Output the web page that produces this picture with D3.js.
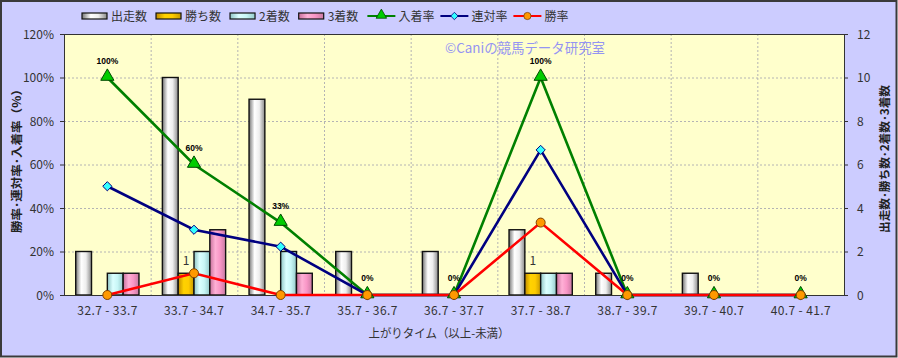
<!DOCTYPE html>
<html><head><meta charset="utf-8">
<script src="https://cdn.jsdelivr.net/npm/d3@7"></script>
<style>body{margin:0;background:#fff}svg{display:block}</style>
</head><body><svg id="c" width="898" height="358"></svg>
<script>
const categories = ["32.7 - 33.7","33.7 - 34.7","34.7 - 35.7","35.7 - 36.7","36.7 - 37.7","37.7 - 38.7","38.7 - 39.7","39.7 - 40.7","40.7 - 41.7"];
const runs    = [2,10,9,2,2,3,1,1,0];
const wins    = [0,1,0,0,0,1,0,0,0];
const seconds = [1,2,2,0,0,1,0,0,0];
const thirds  = [1,3,1,0,0,1,0,0,0];
const placeRate    = [100,60,33.3,0,0,100,0,0,0];
const quinellaRate = [50,30,22.2,0,0,66.7,0,0,0];
const winRate      = [0,10,0,0,0,33.3,0,0,0];
const leftTicks  = [0,20,40,60,80,100,120];
const rightTicks = [0,2,4,6,8,10,12];
const barSeries = [
  {name:"出走数", values:runs,    grad:"gW", stops:["#767676","#ffffff","#eeeeee","#8a8a8a"]},
  {name:"勝ち数", values:wins,    grad:"gY", stops:["#c08a00","#ffd200","#ffcc00","#c89a00"]},
  {name:"2着数",  values:seconds, grad:"gC", stops:["#8fc4c4","#dcffff","#c8f6f6","#94caca"]},
  {name:"3着数",  values:thirds,  grad:"gP", stops:["#c8709c","#ffb0d6","#f896c6","#c87aa2"]}
];
const lineSeries = [
  {name:"入着率", values:placeRate,    color:"#008000", marker:"tri"},
  {name:"連対率", values:quinellaRate, color:"#000080", marker:"dia"},
  {name:"勝率",   values:winRate,      color:"#ff0000", marker:"cir"}
];

const W=898,H=358;
const plot={l:64,r:844,t:34,b:295};
const svg=d3.select("#c");
const FONT="'Noto Sans CJK JP','Noto Sans',sans-serif";

const defs=svg.append("defs");
barSeries.forEach(s=>{
  const g=defs.append("linearGradient").attr("id",s.grad).attr("x1",0).attr("x2",1).attr("y1",0).attr("y2",0);
  [0,0.35,0.65,1].forEach((o,i)=>g.append("stop").attr("offset",o).attr("stop-color",s.stops[i]));
});

// background
svg.append("rect").attr("x",1).attr("y",1).attr("width",W-2.5).attr("height",H-2.5)
  .attr("fill","#ccccff").attr("stroke","#3a3a3a").attr("stroke-width",2);
svg.append("rect").attr("x",plot.l).attr("y",plot.t).attr("width",plot.r-plot.l).attr("height",plot.b-plot.t)
  .attr("fill","#ffffcc");

const x=d3.scaleBand().domain(categories).range([plot.l,plot.r]).padding(0);
const yL=d3.scaleLinear().domain([0,120]).range([plot.b,plot.t]);
const yR=d3.scaleLinear().domain([0,12]).range([plot.b,plot.t]);
const bw=x.bandwidth(), gw=bw*0.73;
const xs=d3.scaleBand().domain(barSeries.map(s=>s.name)).range([(bw-gw)/2,(bw+gw)/2]).padding(0);

// gridlines
const grid=svg.append("g");
grid.selectAll("line.h").data(leftTicks.filter(t=>t>0&&t<120)).join("line")
  .attr("x1",plot.l).attr("x2",plot.r).attr("y1",d=>yL(d)+0.5).attr("y2",d=>yL(d)+0.5)
  .attr("stroke","#b4b4b4").attr("stroke-dasharray","2,2");
grid.selectAll("line.v").data(categories.slice(1)).join("line")
  .attr("x1",d=>x(d)+0.5).attr("x2",d=>x(d)+0.5).attr("y1",plot.t).attr("y2",plot.b)
  .attr("stroke","#b4b4b4").attr("stroke-dasharray","2,2");

// watermark
svg.append("text").attr("x",445).attr("y",53).text("©Caniの競馬データ研究室")
  .attr("font-family",FONT).attr("font-size",13.5).attr("fill","#9494f2")
  .attr("textLength",160).attr("lengthAdjust","spacingAndGlyphs");

// bars
const bars=svg.append("g");
barSeries.forEach(s=>{
  bars.selectAll(null).data(categories.map((c,i)=>({c,v:s.values[i]})).filter(d=>d.v>0)).join("rect")
    .attr("x",d=>x(d.c)+xs(s.name)).attr("width",xs.bandwidth())
    .attr("y",d=>yR(d.v)).attr("height",d=>yR(0)-yR(d.v))
    .attr("fill",`url(#${s.grad})`).attr("stroke","#111").attr("stroke-width",1.4);
});
// win count labels
svg.append("g").selectAll("text").data(categories.map((c,i)=>({c,v:wins[i]})).filter(d=>d.v>0)).join("text")
  .attr("x",d=>x(d.c)+xs("勝ち数")+xs.bandwidth()/2).attr("y",d=>yR(d.v)-8)
  .attr("text-anchor","middle").attr("font-family",FONT).attr("font-size",12).attr("fill","#333")
  .text(d=>d.v);

// plot border
svg.append("rect").attr("x",plot.l+0.5).attr("y",plot.t+0.5).attr("width",plot.r-plot.l).attr("height",plot.b-plot.t)
  .attr("fill","none").attr("stroke","#333").attr("stroke-width",1);

// lines
const cx=c=>x(c)+bw/2;
const triPath=d3.symbol(d3.symbolTriangle,75)();
const diaPath="M0,-4.6L4.6,0L0,4.6L-4.6,0Z";
function drawMarker(g,type){
  if(type==="tri") g.append("path").attr("d",triPath).attr("transform","translate(0,-1)").attr("fill","#00cc00").attr("stroke","#004a00").attr("stroke-width",1);
  else if(type==="dia") g.append("path").attr("d",diaPath).attr("fill","#33ffff").attr("stroke","#000080").attr("stroke-width",1);
  else g.append("circle").attr("r",4.5).attr("fill","#ff9900").attr("stroke","#804000").attr("stroke-width",1);
}
lineSeries.forEach(s=>{
  const pts=categories.map((c,i)=>[cx(c),yL(s.values[i])]);
  svg.append("path").attr("d",d3.line()(pts)).attr("fill","none").attr("stroke",s.color).attr("stroke-width",2.6);
});
lineSeries.forEach(s=>{
  categories.forEach((c,i)=>{
    const g=svg.append("g").attr("transform",`translate(${cx(c)},${yL(s.values[i])})`);
    drawMarker(g,s.marker);
  });
});
// place rate labels
svg.append("g").selectAll("text").data(categories.map((c,i)=>({c,v:placeRate[i]}))).join("text")
  .attr("x",d=>cx(d.c)).attr("y",d=>yL(d.v)-14)
  .attr("text-anchor","middle").attr("font-family","'Liberation Sans',Arial,sans-serif")
  .attr("font-weight","bold").attr("font-size",8.5).attr("fill","#000")
  .text(d=>Math.round(d.v)+"%");

// axes
const tickStyle=sel=>sel.attr("font-family",FONT).attr("font-size",12).attr("fill","#333");
const axL=svg.append("g");
axL.selectAll("line").data(leftTicks).join("line").attr("x1",plot.l-4).attr("x2",plot.l)
  .attr("y1",d=>yL(d)+0.5).attr("y2",d=>yL(d)+0.5).attr("stroke","#333");
axL.selectAll("text").data(leftTicks).join("text").attr("x",54).attr("y",d=>yL(d)+4.5)
  .attr("text-anchor","end").text(d=>d+"%").call(tickStyle);
const axR=svg.append("g");
axR.selectAll("line").data(rightTicks).join("line").attr("x1",plot.r).attr("x2",plot.r+4)
  .attr("y1",d=>yR(d)+0.5).attr("y2",d=>yR(d)+0.5).attr("stroke","#333");
axR.selectAll("text").data(rightTicks).join("text").attr("x",857).attr("y",d=>yR(d)+4.5)
  .attr("text-anchor","start").text(d=>d).call(tickStyle);
const axB=svg.append("g");
axB.selectAll("text").data(categories).join("text").attr("x",d=>cx(d)).attr("y",315)
  .attr("text-anchor","middle").attr("textLength",60).attr("lengthAdjust","spacing")
  .text(d=>d).call(tickStyle);

// axis titles
svg.append("text").attr("transform","translate(21,158) rotate(-90)").attr("text-anchor","middle")
  .attr("font-family",FONT).attr("font-size",11.5).attr("font-weight","bold").attr("fill","#222")
  .attr("textLength",150).attr("lengthAdjust","spacingAndGlyphs")
  .text("勝率･連対率･入着率（％）");
svg.append("text").attr("transform","translate(889,159) rotate(-90)").attr("text-anchor","middle")
  .attr("font-family",FONT).attr("font-size",11.5).attr("font-weight","bold").attr("fill","#222")
  .attr("textLength",148).attr("lengthAdjust","spacingAndGlyphs")
  .text("出走数･勝ち数･2着数･3着数");
svg.append("text").attr("x",439).attr("y",338).attr("text-anchor","middle")
  .attr("font-family",FONT).attr("font-size",12).attr("fill","#333")
  .attr("textLength",141).attr("lengthAdjust","spacingAndGlyphs").text("上がりタイム（以上-未満）");

// legend
const leg=svg.append("g");
let lx=82; const ly=16;
barSeries.forEach(s=>{
  leg.append("rect").attr("x",lx).attr("y",ly-3).attr("width",25).attr("height",6)
    .attr("fill",`url(#${s.grad})`).attr("stroke","#111").attr("stroke-width",1.2);
  const t=leg.append("text").attr("x",lx+29).attr("y",ly+4.5).text(s.name)
    .attr("font-family",FONT).attr("font-size",12).attr("fill","#333");
  lx+=29+t.node().getComputedTextLength()+9;
});
lineSeries.forEach(s=>{
  leg.append("line").attr("x1",lx).attr("x2",lx+28).attr("y1",ly).attr("y2",ly).attr("stroke",s.color).attr("stroke-width",2);
  const g=leg.append("g").attr("transform",`translate(${lx+14},${ly}) scale(0.8)`);
  drawMarker(g,s.marker);
  const t=leg.append("text").attr("x",lx+31).attr("y",ly+4.5).text(s.name)
    .attr("font-family",FONT).attr("font-size",12).attr("fill","#333");
  lx+=31+t.node().getComputedTextLength()+6;
});
</script></body></html>
